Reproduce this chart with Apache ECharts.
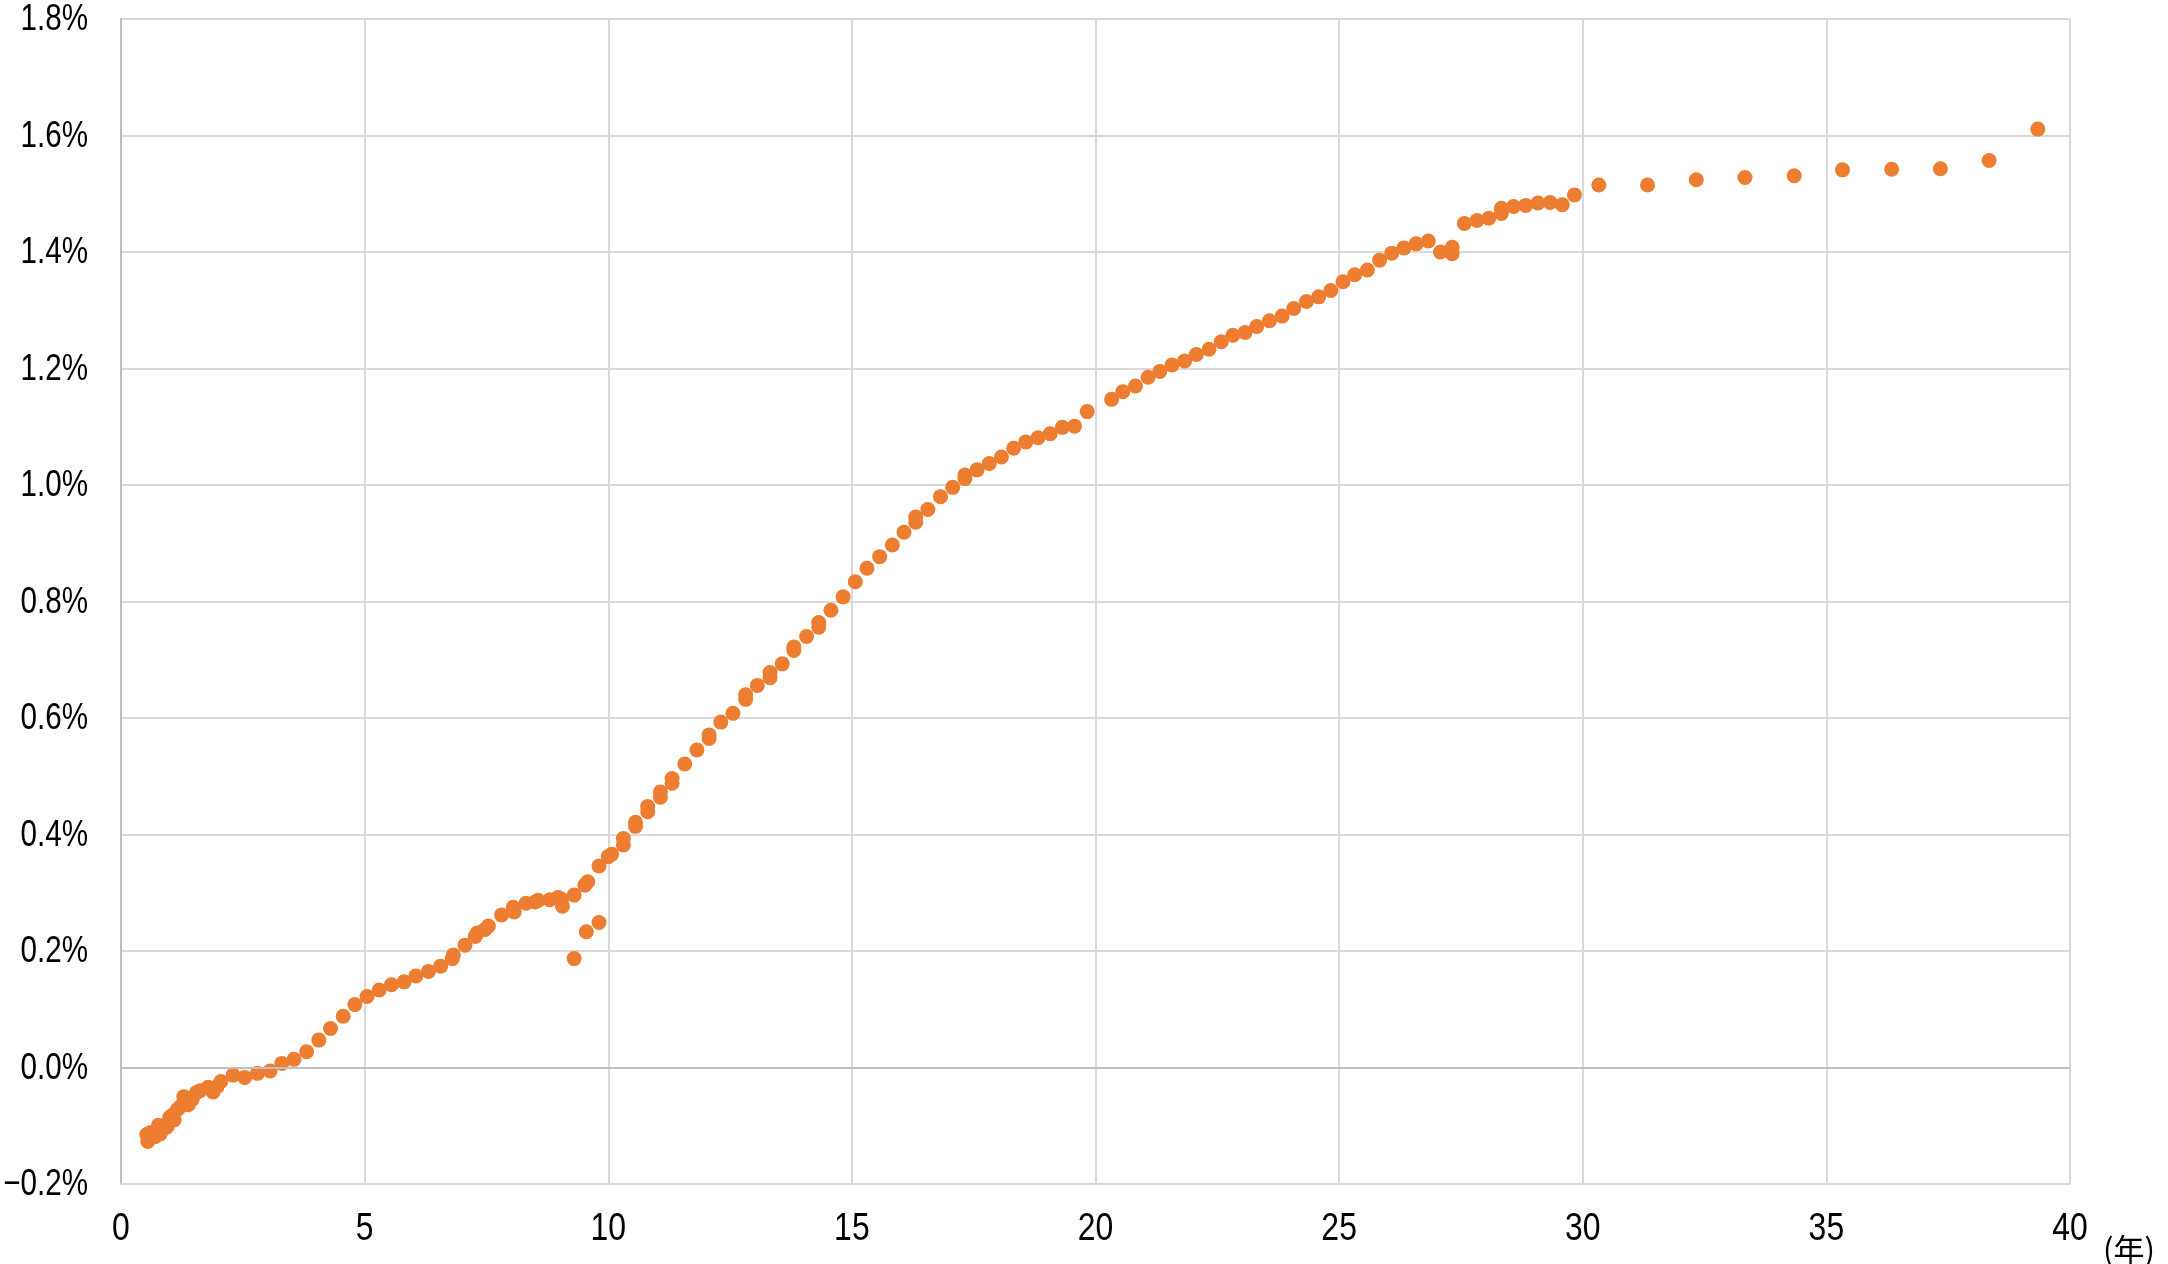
<!DOCTYPE html>
<html>
<head>
<meta charset="utf-8">
<script src="https://cdn.jsdelivr.net/npm/echarts@6/dist/echarts.min.js"></script>
<style>
html,body{margin:0;padding:0;background:#fff;}
#chart{width:2168px;height:1264px;}
</style>
</head>
<body>
<div id="chart"></div>
<script>
// Years to maturity (x) and yield in % (y)
const years = [0.53,0.55,0.57,0.60,0.70,0.77,0.80,0.85,0.94,1.00,1.05,1.09,1.16,1.22,1.29,1.38,1.46,1.55,1.62,1.79,1.89,1.97,2.05,2.30,2.54,2.80,3.06,3.30,3.55,3.81,4.06,4.30,4.56,4.80,5.05,5.30,5.55,5.81,6.05,6.31,6.56,6.80,6.82,7.06,7.27,7.31,7.47,7.54,7.81,8.05,8.07,8.31,8.50,8.56,8.80,8.97,9.04,9.06,9.30,9.52,9.58,9.81,10.00,10.07,10.31,10.31,10.56,10.56,10.81,10.81,11.07,11.07,11.31,11.31,11.57,11.82,12.07,12.07,12.31,12.56,12.82,12.82,13.06,13.32,13.32,13.57,13.81,13.81,14.07,14.32,14.32,14.57,14.82,15.07,15.31,15.57,15.83,16.07,16.31,16.31,16.56,16.82,17.07,17.32,17.32,17.57,17.82,18.07,18.32,18.57,18.82,19.07,19.32,19.57,19.83,20.33,20.56,20.82,21.08,21.32,21.57,21.83,22.07,22.33,22.58,22.82,23.07,23.31,23.57,23.83,24.07,24.33,24.58,24.83,25.08,25.32,25.58,25.83,26.08,26.33,26.58,26.83,27.08,27.32,27.32,27.57,27.83,28.07,28.33,28.33,28.58,28.83,29.08,29.33,29.58,29.83,30.33,31.33,32.33,33.33,34.34,35.33,36.34,37.34,38.34,39.34,9.30,9.55,9.81];
const yields = [-0.115,-0.127,-0.121,-0.112,-0.119,-0.099,-0.114,-0.107,-0.102,-0.086,-0.082,-0.090,-0.072,-0.067,-0.050,-0.064,-0.055,-0.043,-0.040,-0.034,-0.042,-0.033,-0.024,-0.013,-0.017,-0.010,-0.006,0.007,0.014,0.027,0.047,0.067,0.088,0.108,0.122,0.133,0.142,0.147,0.157,0.165,0.174,0.187,0.193,0.210,0.225,0.231,0.237,0.243,0.262,0.275,0.267,0.282,0.284,0.287,0.288,0.292,0.289,0.277,0.296,0.313,0.319,0.346,0.362,0.366,0.393,0.382,0.421,0.414,0.448,0.439,0.473,0.464,0.496,0.488,0.521,0.545,0.571,0.565,0.593,0.608,0.640,0.632,0.656,0.678,0.669,0.693,0.722,0.716,0.740,0.764,0.756,0.785,0.808,0.834,0.857,0.877,0.897,0.919,0.945,0.936,0.958,0.980,0.996,1.017,1.011,1.026,1.037,1.048,1.063,1.074,1.081,1.088,1.099,1.101,1.126,1.147,1.160,1.170,1.185,1.195,1.206,1.213,1.224,1.233,1.246,1.257,1.262,1.272,1.282,1.290,1.303,1.315,1.323,1.334,1.349,1.361,1.369,1.386,1.398,1.407,1.414,1.419,1.400,1.408,1.397,1.449,1.454,1.458,1.475,1.466,1.478,1.480,1.484,1.485,1.481,1.498,1.515,1.515,1.524,1.528,1.531,1.541,1.542,1.543,1.557,1.611,0.187,0.233,0.249];
const xTickValues = [0, 5, 10, 15, 20, 25, 30, 35, 40];
const xTickLabels = ['0', '5', '10', '15', '20', '25', '30', '35', '40'];
const yTickValues = [-0.2, 0.0, 0.2, 0.4, 0.6, 0.8, 1.0, 1.2, 1.4, 1.6, 1.8];
const yTickLabels = ['−0.2%', '0.0%', '0.2%', '0.4%', '0.6%', '0.8%', '1.0%', '1.2%', '1.4%', '1.6%', '1.8%'];
const xUnit = '(年)';

const points = years.map((x, i) => [x, yields[i]]);
const labelFont = "'Liberation Sans', Arial, sans-serif";

const chart = echarts.init(document.getElementById('chart'), null, {renderer: 'canvas'});
chart.setOption({
  animation: false,
  backgroundColor: '#fff',
  grid: {left: 121, right: 98, top: 19, bottom: 80, containLabel: false, outerBoundsMode: 'none'},
  xAxis: {
    type: 'value',
    min: xTickValues[0], max: xTickValues[xTickValues.length - 1], interval: xTickValues[1] - xTickValues[0],
    axisLine: {show: true, onZero: false, lineStyle: {color: '#d9d9d9', width: 2}},
    axisTick: {show: false},
    splitLine: {show: true, lineStyle: {color: '#d9d9d9', width: 2}},
    axisLabel: {show: false}
  },
  yAxis: {
    type: 'value',
    min: -0.2, max: 1.8, interval: 0.2,
    axisLine: {show: true, lineStyle: {color: '#bfbfbf', width: 2}},
    axisTick: {show: false},
    splitLine: {show: true, lineStyle: {color: '#d9d9d9', width: 2}},
    axisLabel: {show: false}
  },
  series: [{
    type: 'scatter',
    data: points,
    symbol: 'circle',
    symbolSize: 15,
    itemStyle: {color: '#ED7D31', opacity: 1},
    markLine: {
      silent: true, symbol: 'none', label: {show: false},
      lineStyle: {color: '#bfbfbf', width: 2, type: 'solid'},
      data: [{yAxis: 0}]
    },
    z: 3
  }]
});

// Tick labels placed through the chart's own scales (narrowed glyphs like the original)
const graphics = [];
xTickValues.forEach((v, i) => {
  const p = chart.convertToPixel({gridIndex: 0}, [v, yTickValues[0]]);
  graphics.push({
    type: 'text', x: p[0], y: p[1] + 46, scaleX: 0.84, silent: true,
    style: {text: xTickLabels[i], fill: '#000', fontSize: 38, fontFamily: labelFont, align: 'center', verticalAlign: 'middle'}
  });
});
yTickValues.forEach((v, i) => {
  const p = chart.convertToPixel({gridIndex: 0}, [xTickValues[0], v]);
  graphics.push({
    type: 'text', x: p[0] - 33, y: p[1] + 1, scaleX: 0.8, silent: true,
    style: {text: yTickLabels[i], fill: '#000', fontSize: 37, fontFamily: labelFont, align: 'right', verticalAlign: 'middle'}
  });
});
const pe = chart.convertToPixel({gridIndex: 0}, [xTickValues[xTickValues.length - 1], yTickValues[0]]);
graphics.push({
  type: 'text', x: pe[0] + 33, y: pe[1] + 65, silent: true,
  style: {text: xUnit, fill: '#000', fontSize: 31, fontFamily: "'Noto Sans CJK JP', sans-serif", align: 'left', verticalAlign: 'middle'}
});
chart.setOption({graphic: graphics});
</script>
</body>
</html>
